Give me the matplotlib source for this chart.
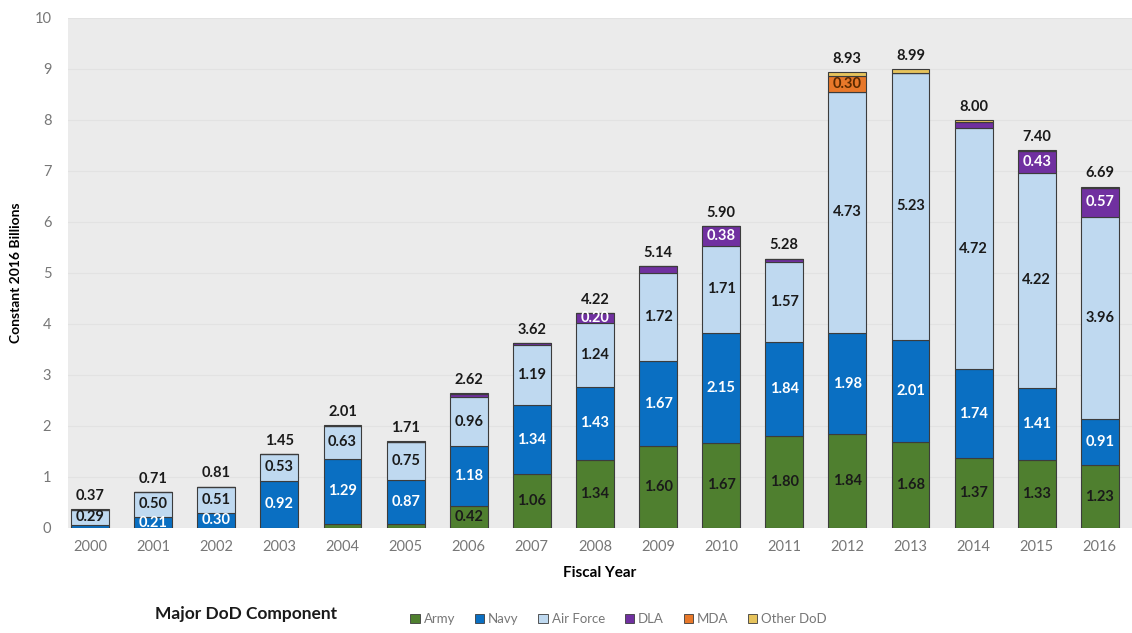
import numpy as np
import matplotlib.pyplot as plt
import matplotlib as mpl
from matplotlib.patches import Patch

mpl.rcParams['font.family'] = ['Lato', 'DejaVu Sans']

# Data (constant 2016 $B)
years = ['2000', '2001', '2002', '2003', '2004', '2005', '2006', '2007', '2008',
         '2009', '2010', '2011', '2012', '2013', '2014', '2015', '2016']
army = [0.00, 0.00, 0.00, 0.00, 0.07, 0.07, 0.42, 1.06, 1.34,
        1.60, 1.67, 1.80, 1.84, 1.68, 1.37, 1.33, 1.23]
navy = [0.06, 0.21, 0.30, 0.92, 1.29, 0.87, 1.18, 1.34, 1.43,
        1.67, 2.15, 1.84, 1.98, 2.01, 1.74, 1.41, 0.91]
air_force = [0.29, 0.50, 0.51, 0.53, 0.63, 0.75, 0.96, 1.19, 1.24,
             1.72, 1.71, 1.57, 4.73, 5.23, 4.72, 4.22, 3.96]
dla = [0.00, 0.00, 0.00, 0.00, 0.00, 0.00, 0.06, 0.03, 0.20,
       0.15, 0.38, 0.07, 0.00, 0.00, 0.12, 0.43, 0.57]
mda = [0.00, 0.00, 0.00, 0.00, 0.00, 0.00, 0.00, 0.00, 0.00,
       0.00, 0.00, 0.00, 0.30, 0.00, 0.00, 0.00, 0.00]
other = [0.02, 0.00, 0.00, 0.00, 0.02, 0.02, 0.02, 0.00, 0.00,
         0.00, 0.00, 0.00, 0.08, 0.07, 0.05, 0.01, 0.02]
totals = [0.37, 0.71, 0.81, 1.45, 2.01, 1.71, 2.62, 3.62, 4.22,
          5.14, 5.90, 5.28, 8.93, 8.99, 8.00, 7.40, 6.69]

series = [
    ('Army', army, '#4F7F2F', '#1a1a1a'),
    ('Navy', navy, '#0A6FC2', 'white'),
    ('Air Force', air_force, '#BFD9F0', '#1a1a1a'),
    ('DLA', dla, '#7030A0', 'white'),
    ('MDA', mda, '#E8782A', '#5a2a00'),
    ('Other DoD', other, '#E6C35C', '#1a1a1a'),
]

fig = plt.figure(figsize=(11.32, 6.33), dpi=100)
ax = fig.add_axes([0.060, 0.166, 0.940, 0.806])
ax.set_facecolor('#EBEBEB')

x = np.arange(len(years))
bottom = np.zeros(len(years))
for name, vals, col, tcol in series:
    vals = np.array(vals)
    ax.bar(x, vals, 0.6, bottom=bottom, color=col, edgecolor='#3c3c3c',
           linewidth=0.8, label=name, zorder=3)
    for i, v in enumerate(vals):
        if v >= 0.2:
            ax.text(x[i], bottom[i] + v / 2, f'{v:.2f}', ha='center', va='center',
                    color=tcol, fontsize=10.5, fontweight='bold', zorder=4)
    bottom += vals

for i, t in enumerate(totals):
    ax.text(x[i], bottom[i] + 0.12, f'{t:.2f}', ha='center', va='bottom',
            color='#1a1a1a', fontsize=10.5, fontweight='bold')

ax.set_xlim(-0.35, 16.51)
ax.set_ylim(0, 10)
ax.set_xticks(x)
ax.set_xticklabels(years)
ax.set_yticks(range(0, 11))
ax.tick_params(length=0, colors='#777777', labelsize=10.5)
ax.tick_params(axis='x', pad=9)
ax.tick_params(axis='y', pad=12)
ax.yaxis.grid(True, color='#E2E2E2', linewidth=0.8, zorder=0)
for s in ax.spines.values():
    s.set_visible(False)

ax.set_xlabel('Fiscal Year', fontsize=11, fontweight='bold', labelpad=8)
ax.set_ylabel('Constant 2016 Billions', fontsize=10, fontweight='bold')
ax.yaxis.set_label_coords(-0.043, 0.5)

fig.text(0.137, 0.017, 'Major DoD Component', fontsize=12.5, fontweight='bold',
         color='#1a1a1a', va='bottom')
handles = [Patch(facecolor=c, edgecolor='#3c3c3c', linewidth=0.6, label=n)
           for n, _, c, _ in series]
fig.legend(handles=handles, loc='lower left', bbox_to_anchor=(0.352, -0.006),
           ncol=6, frameon=False, fontsize=9.5, handlelength=0.7, handleheight=0.7,
           handletextpad=0.3, columnspacing=1.5, labelcolor='#777777')

fig.savefig('out.png', dpi=100)
